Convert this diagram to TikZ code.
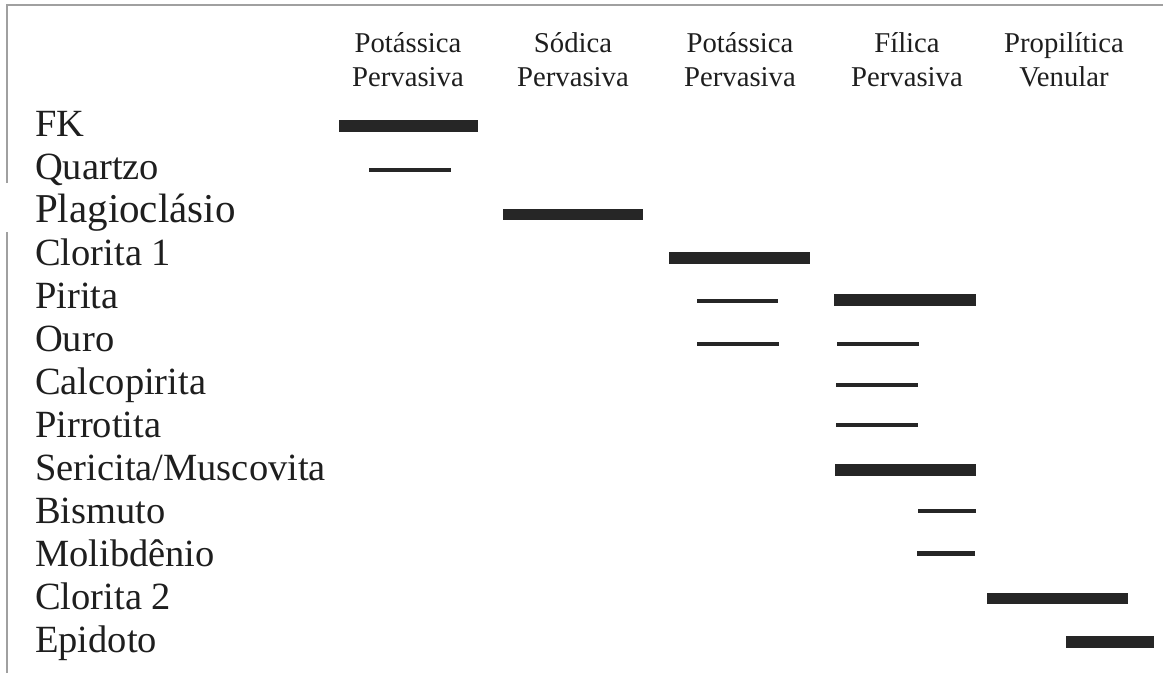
\documentclass[tikz,border=0pt]{standalone}
\usepackage{fontspec}
\setmainfont{Liberation Serif}
\definecolor{ink}{HTML}{1E1E1E}
\definecolor{barcol}{HTML}{262626}
\definecolor{framecol}{HTML}{A0A0A0}
\begin{document}
\begin{tikzpicture}[x=1pt,y=-1pt,
  lab/.style={anchor=base west,inner sep=0pt,text=ink,font=\fontsize{38.5}{40}\selectfont},
  head/.style={anchor=base,inner sep=0pt,text=ink,align=center,font=\fontsize{28.7}{34}\selectfont},
  thickbar/.style={draw=barcol,line width=11.5pt},
  thinbar/.style={draw=barcol,line width=4.5pt},
  frame/.style={draw=framecol,line width=1.5pt}]
\useasboundingbox (0,0) rectangle (1169,673);
% frame
\draw[frame] (7,673) -- (7,232);
\draw[frame] (7,183) -- (7,5) -- (1163,5);
% headers (anchor = baseline of the second line)
\node[head] (h1) at (408,86) {Potássica\\Pervasiva};
\node[head] (h2) at (573,86) {Sódica\\Pervasiva};
\node[head] (h3) at (740,86) {Potássica\\Pervasiva};
\node[head] (h4) at (907,86) {Fílica\\Pervasiva};
\node[head] (h5) at (1064,86) {Propilítica\\Venular};
% labels
\node[lab] (l1) at (35,136) {FK};
\node[lab] (l2) at (35,179) {Quartzo};
\node[lab,font=\fontsize{41}{42}\selectfont] (l3) at (35,222) {Plagioclásio};
\node[lab] (l4) at (35,265) {Clorita 1};
\node[lab] (l5) at (35,308) {Pirita};
\node[lab] (l6) at (35,351) {Ouro};
\node[lab] (l7) at (35,394) {Calcopirita};
\node[lab] (l8) at (35,437) {Pirrotita};
\node[lab] (l9) at (35,480) {Sericita/Muscovita};
\node[lab] (l10) at (35,523) {Bismuto};
\node[lab] (l11) at (35,566) {Molibdênio};
\node[lab] (l12) at (35,609) {Clorita 2};
\node[lab] (l13) at (35,652) {Epidoto};
% bars
\draw[thickbar] (339,126) -- (478,126);
\draw[thinbar] (369,170) -- (451,170);
\draw[thickbar] (503,214.5) -- (643,214.5);
\draw[thickbar] (669,258) -- (810,258);
\draw[thinbar] (697,301) -- (778,301);
\draw[thickbar] (834,300) -- (976,300);
\draw[thinbar] (697,344) -- (779,344);
\draw[thinbar] (837,344) -- (919,344);
\draw[thinbar] (836,385) -- (918,385);
\draw[thinbar] (836,425) -- (918,425);
\draw[thickbar] (835,470) -- (976,470);
\draw[thinbar] (918,511) -- (976,511);
\draw[thinbar] (917,553.5) -- (975,553.5);
\draw[thickbar] (987,598.5) -- (1128,598.5);
\draw[thickbar] (1066,642) -- (1154,642);
\end{tikzpicture}
\end{document}
